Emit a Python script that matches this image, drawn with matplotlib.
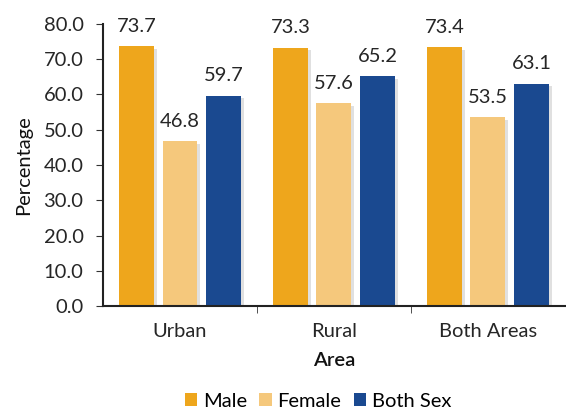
import numpy as np
import matplotlib
matplotlib.use("Agg")
import matplotlib.pyplot as plt
import matplotlib.patheffects as pe
from matplotlib.patches import Patch

areas = ["Urban", "Rural", "Both Areas"]
series = ["Male", "Female", "Both Sex"]
male = [73.7, 73.3, 73.4]
female = [46.8, 57.6, 53.5]
both_sex = [59.7, 65.2, 63.1]
colors = ["#EEA61C", "#F5C87C", "#1A4990"]

plt.rcParams['font.family'] = ['Lato', 'DejaVu Sans']
fs = 14.5

fig = plt.figure(figsize=(5.66, 4.12), dpi=100)
ax = fig.add_axes([0.182, 0.257, 0.816, 0.685])

x = np.arange(len(areas))
width = 0.227
offset = 0.283
shadow = [pe.SimplePatchShadow(offset=(2, -2), shadow_rgbFace='#999999', alpha=0.3), pe.Normal()]

for i, vals in enumerate([male, female, both_sex]):
    bars = ax.bar(x + (i - 1) * offset, vals, width, color=colors[i], zorder=2)
    for b in bars:
        b.set_path_effects(shadow)
    for xi, v in zip(x + (i - 1) * offset, vals):
        ax.text(xi, v + 3.2, f"{v:.1f}", ha='center', va='bottom', fontsize=fs, color='#262626')

ax.set_xlim(-0.5, 2.5)
ax.set_ylim(0, 80)
ticks = np.arange(0, 81, 10)
ax.set_yticks(ticks)
ax.set_yticklabels([f"{t:.1f}" for t in ticks], fontsize=fs, color='#262626')
ax.set_xticks(x)
ax.set_xticklabels(areas, fontsize=fs, color='#262626')
ax.tick_params(axis='x', length=0, pad=12)
ax.set_xticks([0.5, 1.5], minor=True)
ax.tick_params(axis='x', which='minor', length=5, color='#333333', direction='out')
ax.tick_params(axis='y', length=5, color='#333333', direction='out', pad=9)

for s in ['top', 'right']:
    ax.spines[s].set_visible(False)
for s in ['left', 'bottom']:
    ax.spines[s].set_color('#222222')
    ax.spines[s].set_linewidth(1.5)

ax.set_ylabel("Percentage", fontsize=fs, color='#111111', labelpad=8)
ax.set_xlabel("Area", fontsize=fs, fontweight='semibold', color='#111111', labelpad=9)

handles = [Patch(facecolor=c, label=s) for c, s in zip(colors, series)]
fig.legend(handles=handles, loc='center', bbox_to_anchor=(0.562, 0.026), ncol=3, frameon=False,
           fontsize=fs, handlelength=0.6, handleheight=0.6, handletextpad=0.3,
           columnspacing=0.6, borderpad=0)

fig.savefig("out.png", dpi=100)
